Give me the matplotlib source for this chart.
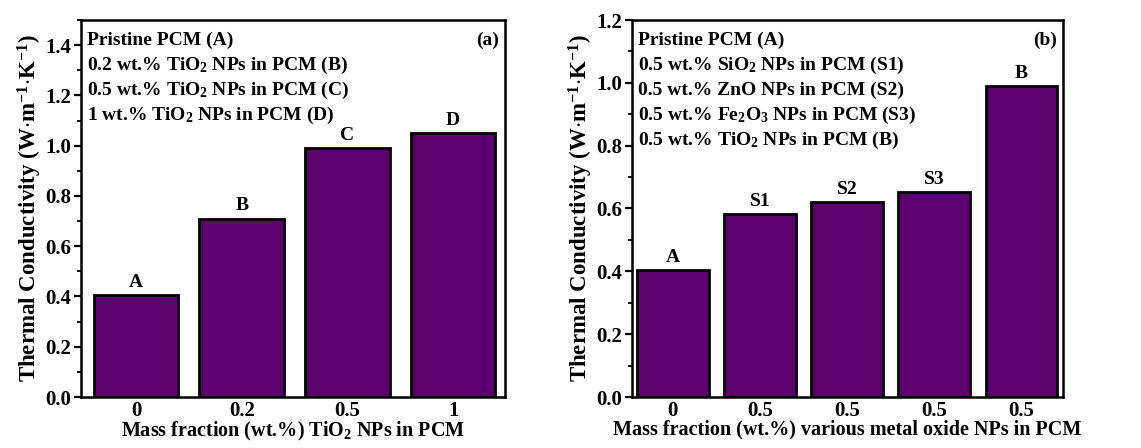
import matplotlib
matplotlib.use('Agg')
import matplotlib.pyplot as plt
from matplotlib.ticker import MultipleLocator

plt.rcParams['font.family'] = ['Liberation Serif', 'DejaVu Serif']
plt.rcParams['font.weight'] = 'bold'
plt.rcParams['mathtext.fontset'] = 'custom'
plt.rcParams['mathtext.rm'] = 'Liberation Serif:bold'
plt.rcParams['mathtext.bf'] = 'Liberation Serif:bold'
plt.rcParams['mathtext.it'] = 'Liberation Serif:bold'
plt.rcParams['mathtext.default'] = 'rm'

# data, panel (a)
ticks_a = ['0', '0.2', '0.5', '1']
tags_a = ['A', 'B', 'C', 'D']
values_a = [0.405, 0.71, 0.99, 1.05]
legend_a = ['Pristine PCM (A)',
            '0.2 wt.% TiO$_2$ NPs in PCM (B)',
            '0.5 wt.% TiO$_2$ NPs in PCM (C)',
            '1 wt.% TiO$_2$ NPs in PCM (D)']

# data, panel (b)
ticks_b = ['0', '0.5', '0.5', '0.5', '0.5']
tags_b = ['A', 'S1', 'S2', 'S3', 'B']
values_b = [0.404, 0.583, 0.621, 0.653, 0.99]
legend_b = ['Pristine PCM (A)',
            '0.5 wt.% SiO$_2$ NPs in PCM (S1)',
            '0.5 wt.% ZnO NPs in PCM (S2)',
            '0.5 wt.% Fe$_2$O$_3$ NPs in PCM (S3)',
            '0.5 wt.% TiO$_2$ NPs in PCM (B)']

BAR = '#5c0070'
YLABEL = 'Thermal Conductivity (W$\\cdot$m$^{-1}$$\\cdot$K$^{-1}$)'

fig = plt.figure(figsize=(11.41, 4.48), dpi=100)
ax1 = fig.add_axes([81/1141, 51/448, 424/1141, 377/448])
ax2 = fig.add_axes([632/1141, 51/448, 431/1141, 377/448])


def draw_panel(ax, ticks, tags, values, legend, panel, ymax, width, xlim, xlabel):
    x = list(range(len(values)))
    ax.bar(x, values, width=width, color=BAR, edgecolor='black', linewidth=2)
    for xi, v, t in zip(x, values, tags):
        ax.annotate(t, (xi, v), xytext=(0, 3), textcoords='offset points',
                    ha='center', va='bottom', fontsize=14, fontweight='bold')
    ax.set_xlim(*xlim)
    ax.set_ylim(0, ymax)
    ax.set_xticks(x)
    ax.set_xticklabels(ticks)
    ax.yaxis.set_major_locator(MultipleLocator(0.2))
    ax.yaxis.set_minor_locator(MultipleLocator(0.1))
    ax.yaxis.set_major_formatter(plt.FormatStrFormatter('%.1f'))
    ax.tick_params(axis='y', which='major', direction='out', length=5, width=1.6,
                   labelsize=15, pad=2)
    ax.tick_params(axis='y', which='minor', direction='out', length=3, width=1.3)
    ax.tick_params(axis='x', length=0, labelsize=15, pad=3)
    for s in ax.spines.values():
        s.set_linewidth(1.8)
    ax.set_xlabel(xlabel, fontsize=14.5, fontweight='bold', labelpad=-1)
    ax.set_ylabel(YLABEL, fontsize=16.5, fontweight='bold', labelpad=1)
    for i, line in enumerate(legend):
        ax.text(0.015, 0.945 - i * 0.066, line, transform=ax.transAxes,
                ha='left', va='center', fontsize=14, fontweight='bold')
    ax.text(0.985, 0.945, panel, transform=ax.transAxes, ha='right', va='center',
            fontsize=14, fontweight='bold')


draw_panel(ax1, ticks_a, tags_a, values_a, legend_a, '(a)', 1.5, 0.8, (-0.52, 3.49),
           'Mass fraction (wt.%) TiO$_2$ NPs in PCM')
draw_panel(ax2, ticks_b, tags_b, values_b, legend_b, '(b)', 1.2, 0.82, (-0.47, 4.48),
           'Mass fraction (wt.%) various metal oxide NPs in PCM')

fig.savefig('out.png', dpi=100, facecolor='white')
